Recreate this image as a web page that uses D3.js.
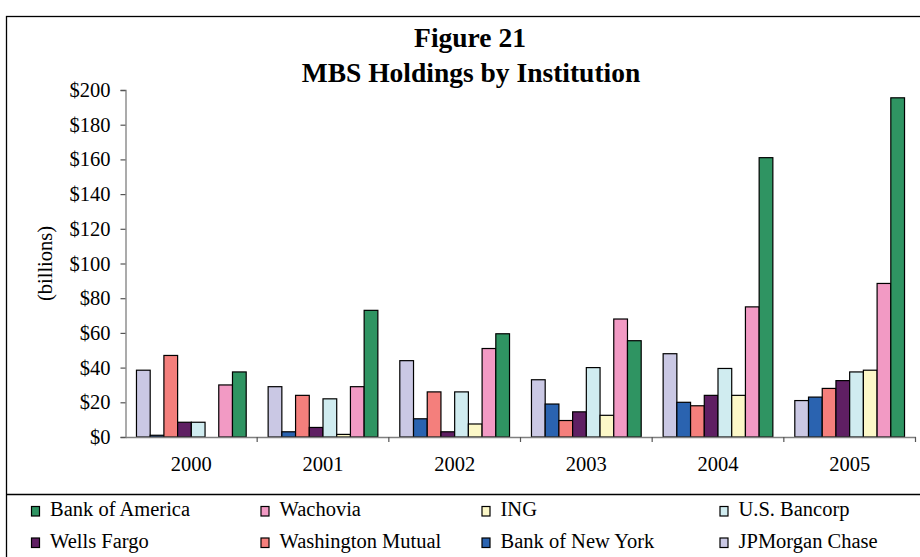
<!DOCTYPE html>
<html>
<head>
<meta charset="utf-8">
<script src="https://cdn.jsdelivr.net/npm/d3@7"></script>
<style>
  body { margin: 0; background: #fff; }
  svg { display: block; }
  svg text { font-family: "Liberation Serif", "Times New Roman", serif !important; }
</style>
</head>
<body>
<div id="chart"></div>
<script>
// data (billions of dollars)
const years = ["2000", "2001", "2002", "2003", "2004", "2005"];
const institutions = ["JPMorgan Chase", "Bank of New York", "Washington Mutual", "Wells Fargo",
  "U.S. Bancorp", "ING", "Wachovia", "Bank of America"];
const jpMorgan     = [38.5, 29, 44, 33, 48, 21];
const bankNY       = [1, 3, 10.5, 19, 20, 23];
const waMu         = [47, 24, 26, 9.5, 18, 28];
const wellsFargo   = [8.5, 5.5, 3, 14.5, 24, 32.5];
const usBancorp    = [8.5, 22, 26, 40, 39.5, 37.5];
const ing          = [0, 1.5, 7.5, 12.5, 24, 38.5];
const wachovia     = [30, 29, 51, 68, 75, 88.5];
const bankAmerica  = [37.5, 73, 59.5, 55.5, 161, 195.5];
const yTicks = [0, 20, 40, 60, 80, 100, 120, 140, 160, 180, 200];

const seriesValues = [jpMorgan, bankNY, waMu, wellsFargo, usBancorp, ing, wachovia, bankAmerica];
const colors = {
  "JPMorgan Chase": "#cac8e4",
  "Bank of New York": "#2a63b0",
  "Washington Mutual": "#f47f7c",
  "Wells Fargo": "#5f1f63",
  "U.S. Bancorp": "#d0ecf0",
  "ING": "#fcf8c8",
  "Wachovia": "#f29ac4",
  "Bank of America": "#2f9462"
};
// legend order as in the picture (two rows of four)
const legendOrder = ["Bank of America", "Wachovia", "ING", "U.S. Bancorp",
  "Wells Fargo", "Washington Mutual", "Bank of New York", "JPMorgan Chase"];

const width = 920, height = 557;
const margin = { top: 90, left: 125.5, bottom: 120, right: 4.5 };
const serif = "Liberation Serif";

const svg = d3.select("#chart").append("svg")
  .attr("width", width)
  .attr("height", height);

// outer frame and legend separator
svg.append("rect")
  .attr("x", 6.5).attr("y", 16.5)
  .attr("width", 930).attr("height", 600)
  .attr("fill", "none").attr("stroke", "#000").attr("stroke-width", 1.3);

svg.append("line")
  .attr("x1", 6.5).attr("x2", width)
  .attr("y1", 494.5).attr("y2", 494.5)
  .attr("stroke", "#000").attr("stroke-width", 1.3);

// title
svg.append("text")
  .attr("x", 470).attr("y", 47)
  .attr("text-anchor", "middle")
  .style("font-size", "27.5px").style("font-weight", "bold")
  .text("Figure 21");
svg.append("text")
  .attr("x", 471).attr("y", 82)
  .attr("text-anchor", "middle")
  .style("font-size", "27.5px").style("font-weight", "bold")
  .text("MBS Holdings by Institution");

// scales
const x0 = d3.scaleBand()
  .domain(years)
  .range([margin.left, width - margin.right])
  .paddingInner(0).paddingOuter(0);

const x1 = d3.scaleBand()
  .domain(institutions)
  .range([0, x0.bandwidth()])
  .paddingInner(0).paddingOuter(0.8);

const y = d3.scaleLinear()
  .domain([0, 200])
  .range([height - margin.bottom, margin.top]);

// bars
const groups = svg.append("g").selectAll("g")
  .data(years)
  .join("g")
  .attr("transform", d => `translate(${x0(d)},0)`);

groups.selectAll("rect")
  .data((yr, i) => institutions.map((name, k) => ({ name, value: seriesValues[k][i] })))
  .join("rect")
  .filter(d => d.value > 0)
  .attr("x", d => x1(d.name))
  .attr("width", x1.bandwidth())
  .attr("y", d => y(d.value))
  .attr("height", d => y(0) - y(d.value))
  .attr("fill", d => colors[d.name])
  .attr("stroke", "#000")
  .attr("stroke-width", 1.2);

// Y axis
const yAxis = svg.append("g")
  .attr("transform", `translate(${margin.left},0)`)
  .call(d3.axisLeft(y).tickValues(yTicks).tickSize(5).tickPadding(10)
    .tickFormat(d => "$" + d));
yAxis.attr("font-family", serif).attr("font-size", 20.5);
yAxis.select(".domain").attr("stroke", "#7f7f7f").attr("stroke-width", 1.3);
yAxis.selectAll(".tick line").attr("stroke", "#555").attr("stroke-width", 1.2);
yAxis.selectAll("text").style("font-size", "20.5px").attr("fill", "#000");

// X axis: labels centered, ticks at group boundaries
const xAxis = svg.append("g")
  .attr("transform", `translate(0,${y(0)})`)
  .call(d3.axisBottom(x0).tickSize(0).tickPadding(19).tickSizeOuter(0));
xAxis.attr("font-family", serif).attr("font-size", 20.5);
xAxis.select(".domain").attr("stroke", "#7f7f7f").attr("stroke-width", 1.3);
xAxis.selectAll("text").style("font-size", "20.5px").attr("fill", "#000");

const bounds = years.map(d => x0(d)).concat([x0.range()[1]]);
xAxis.selectAll(".bound")
  .data(bounds.slice(1))
  .join("line")
  .attr("class", "bound")
  .attr("x1", d => d).attr("x2", d => d)
  .attr("y1", 0).attr("y2", 5)
  .attr("stroke", "#555").attr("stroke-width", 1.2);

// Y label
svg.append("text")
  .attr("transform", `translate(52,${(y(0) + y(200)) / 2}) rotate(-90)`)
  .attr("text-anchor", "middle")
  .style("font-size", "20.5px")
  .text("(billions)");

// legend
const colX = [31.5, 261, 482, 720];
const rowY = [516, 547.5];
const legend = svg.append("g").selectAll("g")
  .data(legendOrder)
  .join("g")
  .attr("transform", (d, i) => `translate(${colX[i % 4]},${rowY[Math.floor(i / 4)]})`);

legend.append("rect")
  .attr("x", 0).attr("y", -9.5)
  .attr("width", 8).attr("height", 9.5)
  .attr("fill", d => colors[d])
  .attr("stroke", "#000").attr("stroke-width", 1.2);

legend.append("text")
  .attr("x", 18.5).attr("y", 0)
  .style("font-size", "20.5px")
  .text(d => d);
</script>
</body>
</html>
